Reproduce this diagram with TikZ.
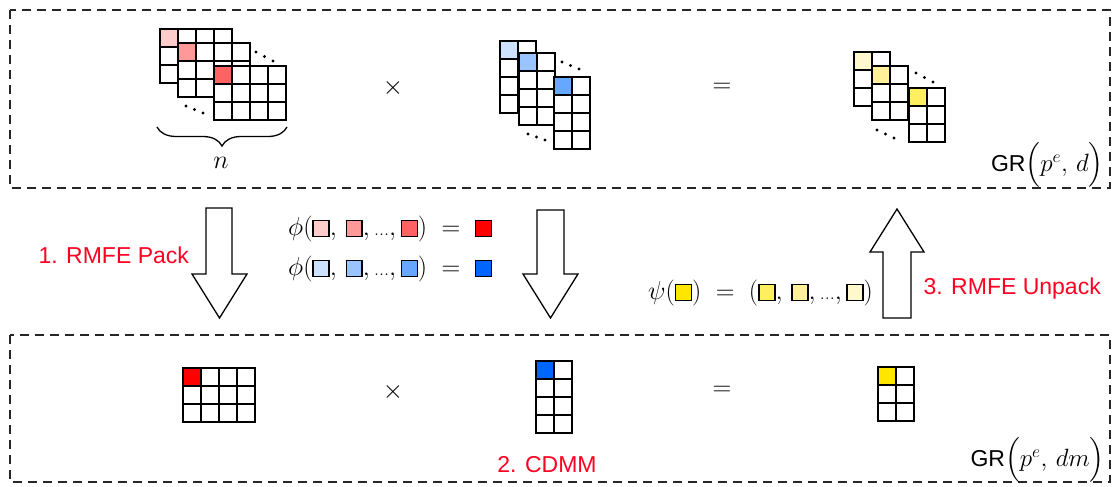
\RequirePackage{fix-cm}
\documentclass[tikz,border=0pt]{standalone}
\usepackage{fontspec}
\setsansfont{Liberation Sans}
\usepackage{amsmath}
\usetikzlibrary{decorations.pathreplacing}

% shades for the first cells
\definecolor{redA}{HTML}{FFCCCC}
\definecolor{redB}{HTML}{FF9999}
\definecolor{redC}{HTML}{FF6262}
\definecolor{redD}{HTML}{FF0000}
\definecolor{blueA}{HTML}{CCE2FF}
\definecolor{blueB}{HTML}{99C4FF}
\definecolor{blueC}{HTML}{66A8FF}
\definecolor{blueD}{HTML}{0066FF}
\definecolor{yelA}{HTML}{FFF8CC}
\definecolor{yelB}{HTML}{FFF099}
\definecolor{yelC}{HTML}{FFEE60}
\definecolor{yelD}{HTML}{FFE600}
\definecolor{steplabel}{HTML}{FF0022}

\tikzset{
cell/.style={ % one square of a matrix
draw=black,
line width=1.5pt},
dashbox/.style={ % the two dashed frames
draw=black!85,
line width=1.2pt,
dash pattern=on 9pt off 6pt},
bigarrow/.style={ % hollow block arrows
draw=black,
fill=white,
line width=1.3pt,
line join=miter},
steptext/.style={ % red step names
text=steplabel,
font=\sffamily\fontsize{23}{26}\selectfont},
mathtext/.style={
inner sep=0pt,
font=\fontsize{26}{30}\selectfont},
ringtext/.style={ % GR(...) labels
inner sep=0pt,
anchor=east,
font=\fontsize{25}{30}\selectfont}}

% matrix: top-left x, top-left y, columns, rows, colour of first cell
\newcommand{\cellgrid}[5]{%
\fill[white] (#1,#2) rectangle ++(#3*18,#4*18);
\fill[#5] (#1,#2) rectangle ++(18,18);
\foreach \c in {1,...,#3}
\foreach \r in {1,...,#4}
\draw[cell] ({#1+(\c-1)*18},{#2+(\r-1)*18}) rectangle ++(18,18);
}
% small coloured square inside a formula
\newcommand{\csq}[1]{\mbox{\setlength\fboxsep{0pt}\setlength\fboxrule{1.4pt}%
\fcolorbox{black}{#1}{\rule{0pt}{14.5pt}\rule{14.5pt}{0pt}}}}
\newcommand{\tdots}{\mbox{\fontsize{20}{24}\selectfont...}}

\begin{document}
\begin{tikzpicture}[x=1pt, y=-1pt]
\useasboundingbox (0,0) rectangle (1119,487);

% frames
\draw[dashbox] (10,10) rectangle (1110,188);
\draw[dashbox] (10,335) rectangle (1110,482);

% n matrices of the left factor
\cellgrid{160}{29}{4}{3}{redA}
\cellgrid{178}{43}{4}{3}{redB}
\cellgrid{214}{66}{4}{3}{redC}
\foreach \p in {(256,52),(264.5,56.5),(273,61),(186,106),(194.5,109.5),(203,113)}
\fill \p circle (1.7);
\draw[line width=1.3pt, decorate, decoration={brace, mirror, amplitude=19pt}]
(157,127) -- (287,127);
\node[mathtext] (n) at (221,163) {$n$};

\node[mathtext] (times1) at (393,88) {$\times$};

% right factor
\cellgrid{500}{41}{2}{4}{blueA}
\cellgrid{519}{53}{2}{4}{blueB}
\cellgrid{554}{77}{2}{4}{blueC}
\foreach \p in {(562,62),(570.5,65.5),(579,69),(528,134),(536.5,137),(545,140)}
\fill \p circle (1.7);

\node[mathtext] (eq1) at (722,88) {$=$};

% products
\cellgrid{854}{52}{2}{3}{yelA}
\cellgrid{872}{66}{2}{3}{yelB}
\cellgrid{909}{88}{2}{3}{yelC}
\foreach \p in {(916,73),(924.5,77.5),(933,82),(877,130),(885.5,134),(894,138)}
\fill \p circle (1.7);

\node[ringtext] (ringtop) at (1104,165)
{{\sffamily\fontsize{23}{26}\selectfont GR}$\Big(p^e,\,d\Big)$};

% block arrows
\draw[bigarrow] (206,208) -- (232,208) -- (232,274) -- (247,274) -- (219.5,318)
-- (192,274) -- (206,274) -- cycle;
\draw[bigarrow] (537,210) -- (564,210) -- (564,274) -- (578,274) -- (550.5,318)
-- (523,274) -- (537,274) -- cycle;
\draw[bigarrow] (883,318) -- (911,318) -- (911,252) -- (924,252) -- (897,209)
-- (870,252) -- (883,252) -- cycle;

\node[steptext, anchor=base west] (pack) at (35,263) {1. RMFE Pack};
\node[steptext, anchor=base] (cdmm) at (547,472) {2. CDMM};
\node[steptext, anchor=base west] (unpack) at (920,294) {3. RMFE Unpack};

% encodings
\node[mathtext, anchor=west] (phired) at (288,229)
{$\phi(\csq{redA},\,\csq{redB},\tdots,\csq{redC})\;=\;\csq{redD}$};
\node[mathtext, anchor=west] (phiblue) at (288,269)
{$\phi(\csq{blueA},\,\csq{blueB},\tdots,\csq{blueC})\;=\;\csq{blueD}$};
\node[mathtext, anchor=west] (psi) at (648,293)
{$\psi(\csq{yelD})\;=\;(\csq{yelC},\,\csq{yelB},\tdots,\csq{yelA})$};

% packed product
\cellgrid{183}{368}{4}{3}{redD}
\node[mathtext] (times2) at (393,392) {$\times$};
\cellgrid{536}{361}{2}{4}{blueD}
\node[mathtext] (eq2) at (722,391) {$=$};
\cellgrid{878}{367}{2}{3}{yelD}

\node[ringtext] (ringbot) at (1105,460)
{{\sffamily\fontsize{23}{26}\selectfont GR}$\Big(p^e,\,dm\Big)$};
\end{tikzpicture}
\end{document}
